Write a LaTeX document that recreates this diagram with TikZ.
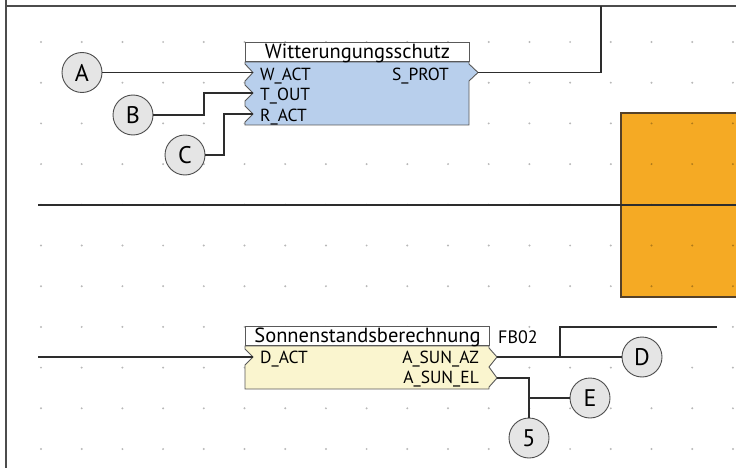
\documentclass[tikz,border=0pt]{standalone}
\usepackage{fontspec}
\setmainfont{PT Sans}
\usepackage{xcolor}
\definecolor{wsblue}{RGB}{184,207,236}
\definecolor{fbyellow}{RGB}{250,245,207}
\definecolor{plorange}{RGB}{245,170,36}
\definecolor{plframe}{RGB}{85,65,40}
\definecolor{wirecol}{RGB}{45,45,45}
\newcommand{\fsz}[1]{\fontsize{#1}{#1}\selectfont}

\begin{document}
\begin{tikzpicture}[x=1pt,y=-1pt,
    wire/.style={draw=wirecol,line width=1.2pt},
    blockbody/.style={draw=black!65,line width=0.9pt,line join=miter},
    titlebox/.style={draw=black!65,fill=white,line width=0.9pt,inner sep=0pt,
      text height=16.5pt,text depth=3pt,anchor=south west,font=\fsz{20.5}},
    pinlabel/.style={inner sep=0pt,font=\fsz{17.5}},
    tag/.style={circle,draw=black!70,fill=black!10,line width=0.9pt,minimum size=40pt,inner sep=0pt,font=\fsz{24}}]
  \useasboundingbox (0,0) rectangle (736,468);
  % PLC panel
  \fill[plorange] (621,113) rectangle (736,297);
  \draw[plframe,line width=1.2pt] (736,113) -- (621,113) -- (621,297) -- (736,297);
  % raster
  \foreach \i in {0,...,17}{
    \foreach \j in {0,...,10}{
      \fill[black,opacity=0.28] ({41+40.7*\i},{42+40.7*\j}) circle (1.1);
    }
  }
  % frame
  \draw[black!70,line width=1.5pt] (6,0) -- (6,468);
  \draw[black!70,line width=1.5pt] (6,6) -- (736,6);
  \coordinate (topedge) at (601,6);
  \coordinate (sepl) at (38,205);
  \coordinate (sepr) at (736,205);
  \draw[wire] (sepl) -- (sepr);

  % Witterungungsschutz
  \path[blockbody,fill=wsblue] (245,62) -- (469,62) -- (469,64) -- (478,72.5) -- (469,81) -- (469,125)
    -- (245,125) -- (245,122) -- (253,114) -- (245,106) -- (245,101) -- (253,93) -- (245,85)
    -- (245,81) -- (253,72.5) -- (245,64) -- cycle;
  \node[titlebox,minimum width=224pt] (wstitle) at (245,62) {Witterungungsschutz};
  \coordinate (wact) at (253,72.5);
  \coordinate (tout) at (253,93);
  \coordinate (ract) at (253,114);
  \coordinate (sprot) at (478,72.5);
  \node[pinlabel,anchor=base west] (wactl) at (260,80.5) {W\_ACT};
  \node[pinlabel,anchor=base west] (toutl) at (260,101) {T\_OUT};
  \node[pinlabel,anchor=base west] (ractl) at (260,121.5) {R\_ACT};
  \node[pinlabel,anchor=base east] (sprotl) at (449,80.5) {S\_PROT};

  % Sonnenstandsberechnung
  \path[blockbody,fill=fbyellow] (245,346) -- (489,346) -- (489,348) -- (497,357) -- (489,367) -- (497,378)
    -- (489,387) -- (489,389) -- (245,389) -- (245,365) -- (253,357) -- (245,349) -- cycle;
  \node[titlebox,minimum width=244pt] (sbtitle) at (245,346) {Sonnenstandsberechnung};
  \node[inner sep=0pt,font=\fsz{18},anchor=base west] (fbname) at (498,343.5) {FB02};
  \coordinate (dact) at (253,357);
  \coordinate (az) at (497,357);
  \coordinate (el) at (497,378);
  \coordinate (lin) at (38,357);
  \coordinate (azout) at (717,327);
  \node[pinlabel,anchor=base west] (dactl) at (260,363.5) {D\_ACT};
  \node[pinlabel,anchor=base east] (azl) at (479,363.5) {A\_SUN\_AZ};
  \node[pinlabel,anchor=base east] (ell) at (479,383) {A\_SUN\_EL};

  % tags
  \node[tag] (A) at (82,72.5) {A};
  \node[tag] (B) at (133,115) {B};
  \node[tag] (C) at (185,155) {C};
  \node[tag] (D) at (642,357) {D};
  \node[tag] (E) at (590,398) {E};
  \node[tag] (five) at (529,438) {5};

  % wiring
  \draw[wire] (A) -- (wact);
  \draw[wire] (B.east) -| ([xshift=-49pt]tout) -- (tout);
  \draw[wire] (C.east) -| ([xshift=-29pt]ract) -- (ract);
  \draw[wire] (sprot) -| (topedge);
  \draw[wire] (lin) -- (dact);
  \draw[wire] (az) -- (D);
  \draw[wire] ([xshift=63pt]az) |- (azout);
  \draw[wire] (el) -| (five);
  \draw[wire] (five |- E) -- (E);
\end{tikzpicture}
\end{document}
